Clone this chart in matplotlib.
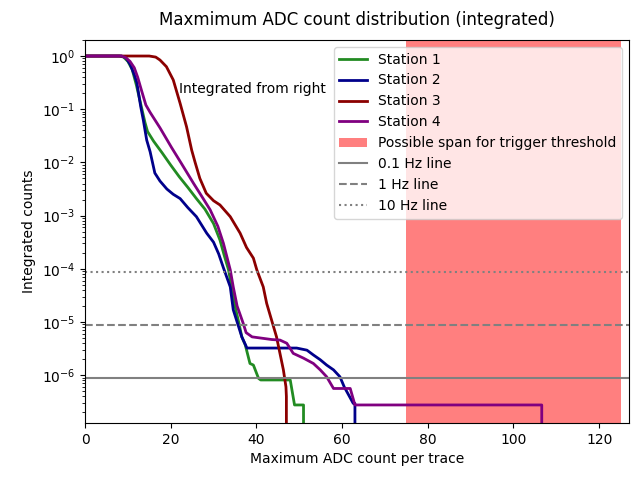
import numpy as np
import matplotlib
matplotlib.use("Agg")
import matplotlib.pyplot as plt

# Integrated (from the right) max-ADC distributions, log10 of the fraction.
# A value of None marks where the integrated count drops to zero.
s1_x = [0, 8, 9, 10, 11, 12, 13, 14, 14.6, 16, 18, 20, 22, 24, 26, 28, 30, 31.5,
        32.5, 33.5, 34.2, 35, 36, 36.6, 37.4, 38.5, 39.3, 40.5, 41, 47.9, 48.9, 51, 51]
s1_log = [0, 0, -0.02, -0.1, -0.25, -0.55, -0.9, -1.25, -1.42, -1.6, -1.82, -2.05,
          -2.27, -2.47, -2.68, -2.88, -3.15, -3.46, -3.75, -4.02, -4.34, -4.7, -5.05,
          -5.28, -5.43, -5.78, -5.81, -6.06, -6.09, -6.09, -6.56, -6.56, None]

s2_x = [0, 8.5, 9.5, 10.5, 11.5, 12.1, 13, 13.6, 14.4, 15.2, 16.3, 17.5, 19.1, 20.6,
        22.2, 24, 26, 28.4, 30, 31.2, 32.3, 33.9, 34.6, 35.5, 36.6, 37.8, 49.4, 51.8,
        53.3, 54.9, 56.4, 58, 59.5, 60.5, 62.6, 63, 63]
s2_log = [0, 0, -0.03, -0.15, -0.35, -0.5, -0.95, -1.2, -1.58, -1.8, -2.2, -2.35,
          -2.5, -2.6, -2.68, -2.85, -3.02, -3.33, -3.5, -3.72, -3.98, -4.34, -4.77,
          -5.0, -5.28, -5.49, -5.49, -5.53, -5.62, -5.71, -5.81, -5.9, -6.03, -6.22,
          -6.53, -6.53, None]

s3_x = [0, 15, 16.5, 17.5, 19, 20.6, 22.2, 23.7, 24.9, 25.7, 26.8, 28.3, 30, 31.5,
        33.9, 36.2, 37.7, 39.3, 40.1, 41.6, 42.4, 44.7, 46.3, 46.9, 47, 47]
s3_log = [0, 0, -0.02, -0.075, -0.2, -0.45, -0.89, -1.33, -1.77, -2.0, -2.3, -2.58,
          -2.72, -2.8, -3.02, -3.33, -3.6, -3.8, -4.02, -4.34, -4.65, -5.28, -5.9,
          -6.22, -6.4, None]

s4_x = [0, 8.5, 9.5, 10.5, 11.5, 12.3, 13.2, 14.2, 15.2, 17.5, 20.2, 22.5, 25.3, 27.5,
        29.2, 31, 32.3, 33.2, 33.9, 34.6, 35.5, 36.9, 37.6, 39, 43.6, 45.5, 47.1, 48.6,
        51, 53.3, 54.9, 56.4, 58, 61.9, 63, 106.6, 106.6]
s4_log = [0, 0, -0.03, -0.1, -0.22, -0.4, -0.65, -0.92, -1.06, -1.35, -1.72, -2.02,
          -2.39, -2.67, -2.89, -3.2, -3.52, -3.8, -4.02, -4.34, -4.7, -5.02, -5.2,
          -5.28, -5.33, -5.34, -5.4, -5.59, -5.68, -5.78, -5.9, -6.03, -6.25, -6.25,
          -6.56, -6.56, None]

station_labels = ["Station 1", "Station 2", "Station 3", "Station 4"]
station_colors = ["forestgreen", "darkblue", "darkred", "purple"]

# Rate reference levels (fraction of events) and trigger threshold span
rate_levels = [8.7e-7, 8.7e-6, 8.7e-5]
rate_labels = ["0.1 Hz line", "1 Hz line", "10 Hz line"]
rate_styles = ["-", "--", ":"]
span_lo, span_hi = 75, 125


def to_counts(logs):
    return np.array([0.0 if v is None else 10.0 ** v for v in logs])


series = [(s1_x, s1_log), (s2_x, s2_log), (s3_x, s3_log), (s4_x, s4_log)]

fig = plt.figure(figsize=(6.42, 4.78), dpi=100)
ax = fig.add_axes([0.1324, 0.115, 0.8476, 0.8013])

for (xs, ls), lab, col in zip(series, station_labels, station_colors):
    ax.plot(xs, to_counts(ls), color=col, lw=2, label=lab)

ax.axvspan(span_lo, span_hi, color="red", alpha=0.5, lw=0,
           label="Possible span for trigger threshold")
for lvl, lab, sty in zip(rate_levels, rate_labels, rate_styles):
    ax.axhline(lvl, color="gray", ls=sty, lw=1.5, label=lab)

ax.set_yscale("log")
ax.set_xlim(0, 127)
ax.set_ylim(1.26e-7, 2.0)
ax.text(22, 0.2, "Integrated from right", fontsize=10)

ax.set_title("Maxmimum ADC count distribution (integrated)", pad=11)
ax.set_xlabel("Maximum ADC count per trace")
ax.set_ylabel("Integrated counts")
ax.legend(loc="upper right")

fig.savefig("out.png", dpi=100)
